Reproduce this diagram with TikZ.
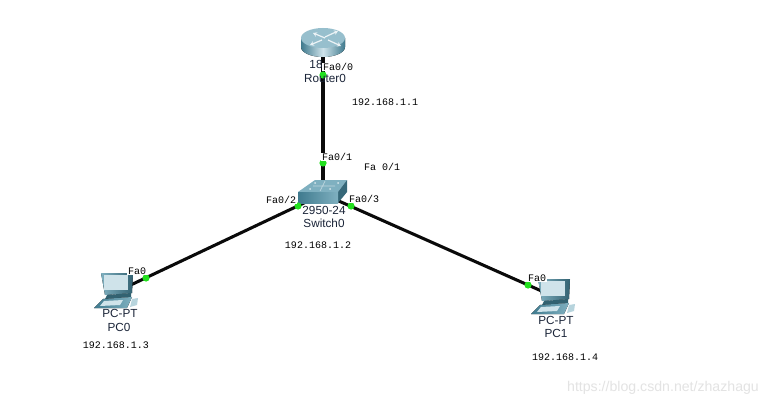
\documentclass[tikz,border=0pt]{standalone}
\usepackage{fontspec}
\usetikzlibrary{arrows.meta}
\setmainfont{Liberation Sans}
\newfontfamily\portfont{Liberation Mono}
\definecolor{linkblack}{HTML}{0A0A0A}
\definecolor{portgreen}{HTML}{22E01E}
\definecolor{ciscodark}{HTML}{3F7A8E}
\definecolor{ciscomid}{HTML}{7FB0C0}
\definecolor{ciscolight}{HTML}{CFE3EA}
\definecolor{labelnavy}{HTML}{1A2438}

\begin{document}
\begin{tikzpicture}[
    x=0.75pt, y=-0.75pt,
    link/.style={line width=2.3pt, draw=linkblack},
    port/.style={circle, fill=portgreen, inner sep=0pt, minimum size=5.4pt},
    portlabel/.style={font=\portfont\fontsize{7.5}{9}\selectfont, text=black, fill=white, inner sep=0.4pt},
    iplabel/.style={font=\portfont\fontsize{7.5}{9}\selectfont, text=black, inner sep=0pt},
    devlabel/.style={font=\fontsize{8.8}{10}\selectfont, text=labelnavy, inner sep=0pt},
    devpoint/.style={inner sep=0pt, minimum size=0pt},
    routerarrow/.style={draw=white!85!ciscomid, line width=0.9pt, -{Stealth[length=3pt,width=3.5pt]}},
    pcicon/.pic={
        % monitor
        \fill[left color=ciscomid, right color=ciscodark!80!black] (-17,-18) -- (15,-18) -- (14,2) -- (-13,4) -- cycle;
        \fill[ciscolight] (-14,-16) -- (10,-16) -- (10,-1) -- (-14,-1) -- cycle;
        \fill[ciscodark!80!black] (-11,4) -- (13,2) -- (13,6) -- (-13,8) -- cycle;
        % keyboard and mouse
        \fill[left color=ciscodark, right color=ciscomid] (-15,8) -- (14,6) -- (9,17) -- (-24,17) -- cycle;
        \fill[ciscolight] (-14,10) -- (5,9) -- (2,14) -- (-18,15) -- cycle;
        \fill[ciscolight!70!ciscomid] (14,8) -- (20,7) -- (19,14) -- (12,16) -- cycle;
    }
]
\useasboundingbox[fill=white] (0,0) rectangle (766,406);

\node[devpoint] (router) at (323,42) {};
\node[devpoint] (switch) at (323,194) {};
\node[devpoint] (pc0) at (118,291) {};
\node[devpoint] (pc1) at (555,297) {};

\draw[link] (router) -- (switch);
\draw[link] (switch) -- (pc0);
\draw[link] (switch) -- (pc1);

% router
\fill[left color=ciscodark, right color=ciscodark, middle color=ciscolight] (301,38) -- (301,47) arc[start angle=180, end angle=0, x radius=22, y radius=10] -- (345,38) -- cycle;
\fill[ciscomid!70!ciscolight] (323,38) ellipse[x radius=22, y radius=10];
\draw[routerarrow] (325,38) -- (313,33);
\draw[routerarrow] (325,37) -- (338,31);
\draw[routerarrow] (322,40) -- (310,45);
\draw[routerarrow] (328,40) -- (341,46);

% switch
\fill[ciscomid] (298,192) -- (315,180) -- (347,180) -- (338,192) -- cycle;
\fill[ciscodark!85!black] (338,192) -- (347,180) -- (347,192) -- (338,203) -- cycle;
\fill[left color=ciscodark, right color=ciscomid] (298,192) rectangle (338,203);
\fill[white!70!ciscomid] (315,183) circle[radius=1] (338,183) circle[radius=1] (310,189) circle[radius=1] (330,189) circle[radius=1];
\draw[white!50!ciscomid, line width=0.5pt] (313,186) -- (335,186) (325,181) -- (320,191);

\pic at (pc0) {pcicon};
\pic at (pc1) {pcicon};

\node[port] (routerport) at (323,75) {};
\node[port] (switchtop) at (323,163) {};
\node[port] (switchleft) at (298,206) {};
\node[port] (switchright) at (351,206) {};
\node[port] (pc0port) at (146,278) {};
\node[port] (pc1port) at (528,285) {};

\node[devlabel] (routermodel) at (316,64) {18};
\node[devlabel] (routername) at (325,78) {Router0};
\node[devlabel] (switchmodel) at (324,210) {2950-24};
\node[devlabel] (switchname) at (324,223) {Switch0};
\node[devlabel] (pc0model) at (120,313) {PC-PT};
\node[devlabel] (pc0name) at (119,327) {PC0};
\node[devlabel] (pc1model) at (556,320) {PC-PT};
\node[devlabel] (pc1name) at (556,333) {PC1};

\node[portlabel] (fa00) at (338,67) {Fa0/0};
\node[portlabel] (fa01) at (337,157) {Fa0/1};
\node[portlabel] (fa02) at (281,200) {Fa0/2};
\node[portlabel] (fa03) at (364,199) {Fa0/3};
\node[portlabel] (pc0fa) at (137,271) {Fa0};
\node[portlabel] (pc1fa) at (537,278) {Fa0};

\node[iplabel] (routerip) at (385,102) {192.168.1.1};
\node[iplabel] (fanote) at (382,167) {Fa 0/1};
\node[iplabel] (switchip) at (318,245) {192.168.1.2};
\node[iplabel] (pc0ip) at (116,345) {192.168.1.3};
\node[iplabel] (pc1ip) at (565,357) {192.168.1.4};

\node[font=\fontsize{10.6}{12}\selectfont, text=black!11, inner sep=0pt] (mark) at (663,388) {https://blog.csdn.net/zhazhagu};

\end{tikzpicture}
\end{document}
